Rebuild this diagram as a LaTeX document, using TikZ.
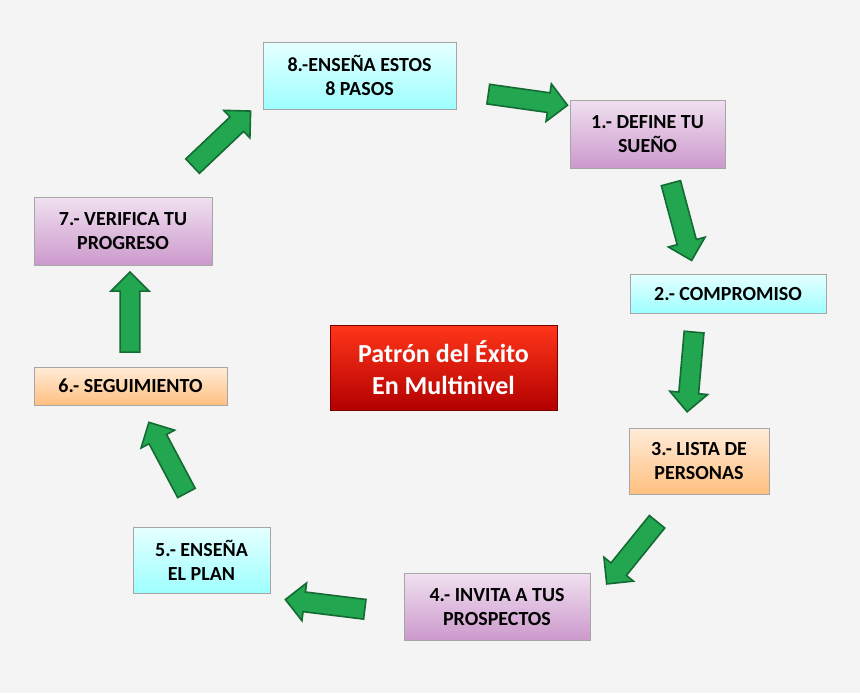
\documentclass[tikz,border=0pt]{standalone}
\usepackage{fontspec}
\setmainfont{Carlito}
\usetikzlibrary{shapes.arrows}
\definecolor{bgc}{HTML}{F4F4F4}
\definecolor{arrg}{HTML}{22A650}
\definecolor{arrd}{HTML}{136B33}
\tikzset{stepbox/.style={draw=gray!70, font=\bfseries\fontsize{10}{12}\selectfont, align=center, inner sep=2pt}}
\tikzset{cyanbox/.style={stepbox, top color=cyan!10, bottom color=cyan!38}}
\tikzset{lilabox/.style={stepbox, top color=violet!12, bottom color=violet!40}}
\tikzset{peachbox/.style={stepbox, top color=orange!15, bottom color=orange!50}}
\tikzset{fatarrow/.style={single arrow, draw=arrd, fill=arrg, line width=0.8pt, minimum height=40pt, minimum width=19pt, single arrow head extend=4.5pt, inner xsep=0pt, inner ysep=4.5pt}}

\begin{document}
\begin{tikzpicture}[x=0.5pt, y=-0.5pt]
\fill[bgc] (0,0) rectangle (860,693);
\useasboundingbox (0,0) rectangle (860,693);

% steps
\node[cyanbox, minimum width=96.5pt, minimum height=33.5pt] (p8) at (359.5,75.5) {8.-ENSEÑA ESTOS\\8 PASOS};
\node[lilabox, minimum width=77.5pt, minimum height=34pt] (p1) at (647.5,134) {1.- DEFINE TU\\SUEÑO};
\node[cyanbox, minimum width=98pt, minimum height=19.5pt] (p2) at (728,293.5) {2.- COMPROMISO};
\node[peachbox, minimum width=70pt, minimum height=33pt] (p3) at (699,461) {3.- LISTA DE\\PERSONAS};
\node[lilabox, minimum width=93pt, minimum height=33.5pt] (p4) at (497,606.5) {4.- INVITA A TUS\\PROSPECTOS};
\node[cyanbox, minimum width=68.5pt, minimum height=33pt] (p5) at (201.5,560) {5.- ENSEÑA\\EL PLAN};
\node[peachbox, minimum width=96.5pt, minimum height=19pt] (p6) at (130.5,386) {6.- SEGUIMIENTO};
\node[lilabox, minimum width=89pt, minimum height=34pt] (p7) at (123,231) {7.- VERIFICA TU\\PROGRESO};

% centre
\node[draw=red!50!black, top color=red!75!orange!90, bottom color=red!70!black, text=white,
  font=\bfseries\fontsize{13}{16}\selectfont, align=center,
  minimum width=113.5pt, minimum height=42.5pt] (title) at (443.5,367.5) {Patrón del Éxito\\En Multinivel};

% arrows
\node[fatarrow, rotate=-8] (a81) at (523,99) {};
\node[fatarrow, rotate=-75] (a12) at (680,217) {};
\node[fatarrow, rotate=-95] (a23) at (691,367) {};
\node[fatarrow, rotate=-129] (a34) at (635,549) {};
\node[fatarrow, rotate=173] (a45) at (330,605) {};
\node[fatarrow, rotate=118] (a56) at (170,462) {};
\node[fatarrow, rotate=90] (a67) at (130,317) {};
\node[fatarrow, rotate=43.5] (a78) at (218,142) {};
\end{tikzpicture}
\end{document}
